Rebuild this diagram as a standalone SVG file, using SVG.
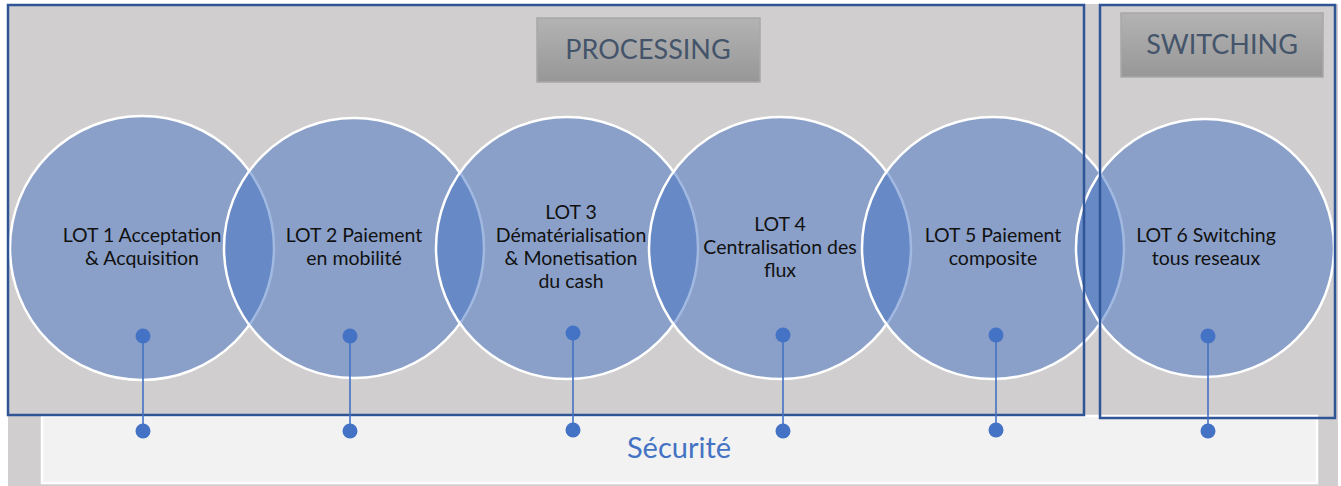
<svg xmlns="http://www.w3.org/2000/svg" width="1341" height="486" viewBox="0 0 1341 486">
<defs>
<linearGradient id="titleGrad" x1="0" y1="0" x2="0" y2="1">
<stop offset="0" stop-color="#b3b3b3"/>
<stop offset="1" stop-color="#979797"/>
</linearGradient>
</defs>
<style>
.lot{fill:#4472c4;fill-opacity:0.5;stroke:#ffffff;stroke-width:2.5}
.lt{font-family:Lato,"Liberation Sans",sans-serif;font-size:19.5px;fill:#111111;text-anchor:middle}
.frame{fill:none;stroke:#2f5597;stroke-width:2.5}
.tbox{fill:url(#titleGrad);stroke:#a8a8a8;stroke-width:1.5}
.tt{font-family:Lato,"Liberation Sans",sans-serif;font-size:27px;fill:#44546a;text-anchor:middle}
.conn{stroke:#4472c4;stroke-width:1.6;fill:none}
.dot{fill:#4472c4}
</style>
<rect x="0" y="0" width="1341" height="486" fill="#ffffff"/>
<rect x="8" y="4" width="1330" height="482" fill="#d0cece"/>
<g id="securite">
<rect x="42" y="416" width="1275" height="67" fill="#f2f2f2" stroke="#ffffff" stroke-width="2.5"/>
<text x="679" y="458" style="font-family:Lato,'Liberation Sans',sans-serif;font-size:29px;fill:#4472c4;text-anchor:middle">Sécurité</text>
</g>
<g id="lot1">
<circle class="lot" cx="142" cy="248" r="132"/>
</g>
<g id="lot2">
<circle class="lot" cx="354" cy="248" r="130"/>
</g>
<g id="lot3">
<circle class="lot" cx="567" cy="248" r="131"/>
</g>
<g id="lot4">
<circle class="lot" cx="780" cy="248" r="131"/>
</g>
<g id="lot5">
<circle class="lot" cx="993" cy="248" r="131"/>
</g>
<g id="lot6">
<circle class="lot" cx="1205" cy="248" r="129"/>
</g>
<g id="labels">
<text class="lt" x="142" y="242">LOT 1 Acceptation</text>
<text class="lt" x="142" y="265">&amp; Acquisition</text>
<text class="lt" x="354" y="242">LOT 2 Paiement</text>
<text class="lt" x="354" y="265">en mobilité</text>
<text class="lt" x="571" y="219">LOT 3</text>
<text class="lt" x="571" y="242">Dématérialisation</text>
<text class="lt" x="571" y="265">&amp; Monetisation</text>
<text class="lt" x="571" y="288">du cash</text>
<text class="lt" x="780" y="231">LOT 4</text>
<text class="lt" x="780" y="254">Centralisation des</text>
<text class="lt" x="780" y="277">flux</text>
<text class="lt" x="993" y="242">LOT 5 Paiement</text>
<text class="lt" x="993" y="265">composite</text>
<text class="lt" x="1206" y="242">LOT 6 Switching</text>
<text class="lt" x="1206" y="265">tous reseaux</text>
</g>
<g id="processing">
<rect class="frame" x="8" y="5" width="1076" height="410"/>
<rect class="tbox" x="537" y="18" width="223" height="64"/>
<text class="tt" x="648" y="59">PROCESSING</text>
</g>
<g id="switching">
<rect class="frame" x="1100" y="5" width="235" height="413"/>
<rect class="tbox" x="1121" y="13" width="202" height="64"/>
<text class="tt" x="1222" y="54">SWITCHING</text>
</g>
<g id="connectors">
<line class="conn" x1="143" y1="336" x2="143" y2="431"/>
<line class="conn" x1="350" y1="336" x2="350" y2="431"/>
<line class="conn" x1="573" y1="333" x2="573" y2="430"/>
<line class="conn" x1="783" y1="335" x2="783" y2="431"/>
<line class="conn" x1="996" y1="335" x2="996" y2="430"/>
<line class="conn" x1="1208" y1="336" x2="1208" y2="431"/>
<circle class="dot" cx="143" cy="336" r="7.5"/>
<circle class="dot" cx="143" cy="431" r="7.5"/>
<circle class="dot" cx="350" cy="336" r="7.5"/>
<circle class="dot" cx="350" cy="431" r="7.5"/>
<circle class="dot" cx="573" cy="333" r="7.5"/>
<circle class="dot" cx="573" cy="430" r="7.5"/>
<circle class="dot" cx="783" cy="335" r="7.5"/>
<circle class="dot" cx="783" cy="431" r="7.5"/>
<circle class="dot" cx="996" cy="335" r="7.5"/>
<circle class="dot" cx="996" cy="430" r="7.5"/>
<circle class="dot" cx="1208" cy="336" r="7.5"/>
<circle class="dot" cx="1208" cy="431" r="7.5"/>
</g>
</svg>
